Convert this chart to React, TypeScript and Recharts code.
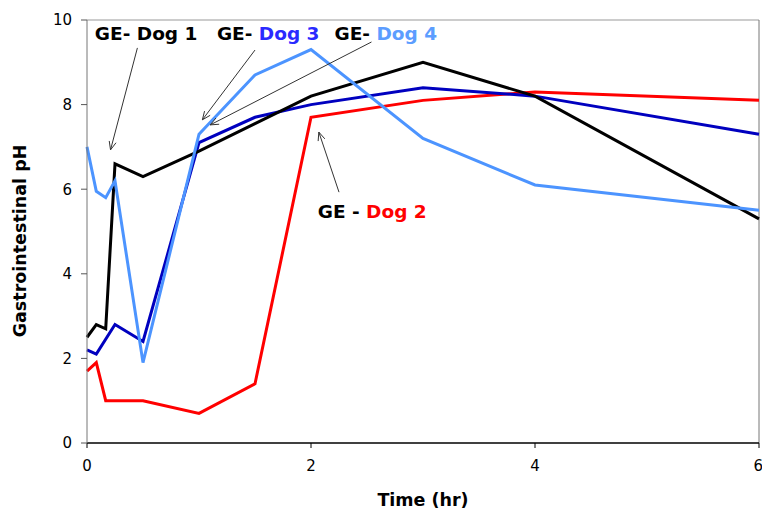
import React from 'react';
import { LineChart, Line, XAxis, YAxis, ReferenceLine, ReferenceDot } from 'recharts';

// Time (hr) and gastrointestinal pH per dog
const dog1Time = [0, 0.083, 0.167, 0.25, 0.5, 1, 1.5, 2, 3, 4, 6];
const dog1PH = [2.5, 2.8, 2.7, 6.6, 6.3, 6.9, 7.55, 8.2, 9.0, 8.2, 5.3];

const dog2Time = [0, 0.083, 0.167, 0.5, 1, 1.5, 2, 3, 4, 6];
const dog2PH = [1.7, 1.9, 1.0, 1.0, 0.7, 1.4, 7.7, 8.1, 8.3, 8.1];

const dog3Time = [0, 0.083, 0.25, 0.5, 1, 1.5, 2, 3, 4, 6];
const dog3PH = [2.2, 2.1, 2.8, 2.4, 7.1, 7.7, 8.0, 8.4, 8.2, 7.3];

const dog4Time = [0, 0.083, 0.167, 0.25, 0.5, 1, 1.5, 2, 3, 4, 6];
const dog4PH = [7.0, 5.95, 5.8, 6.2, 1.9, 7.3, 8.7, 9.3, 7.2, 6.1, 5.5];

const xTicks = [0, 2, 4, 6];
const yTicks = [0, 2, 4, 6, 8, 10];

// Annotation labels (text anchor and arrow in data units)
const annotations = [
  { prefix: 'GE- ', name: 'Dog 1', color: '#000000', tx: 0.07, ty: 9.53, ax1: 0.45, ay1: 9.34, ax2: 0.21, ay2: 6.93 },
  { prefix: 'GE- ', name: 'Dog 3', color: '#2a2aff', tx: 1.16, ty: 9.53, ax1: 1.5, ay1: 9.29, ax2: 1.03, ay2: 7.64 },
  { prefix: 'GE- ', name: 'Dog 4', color: '#5c9dff', tx: 2.21, ty: 9.53, ax1: 2.54, ay1: 9.48, ax2: 1.1, ay2: 7.52 },
  { prefix: 'GE - ', name: 'Dog 2', color: '#ff0000', tx: 2.06, ty: 5.32, ax1: 2.25, ay1: 5.93, ax2: 2.07, ay2: 7.35 },
];

const zip = (ts: number[], vs: number[]) => ts.map((t, i) => ({ t, v: vs[i] }));
const dog1 = zip(dog1Time, dog1PH);
const dog2 = zip(dog2Time, dog2PH);
const dog3 = zip(dog3Time, dog3PH);
const dog4 = zip(dog4Time, dog4PH);

const FONT = '"DejaVu Sans", sans-serif';

const ArrowShape = (p: any) => {
  const { x1, y1, x2, y2 } = p;
  if ([x1, y1, x2, y2].some((v) => typeof v !== 'number' || isNaN(v))) return null;
  const ang = Math.atan2(y2 - y1, x2 - x1);
  const len = 9;
  const spread = 0.4;
  const hx1 = x2 - len * Math.cos(ang - spread);
  const hy1 = y2 - len * Math.sin(ang - spread);
  const hx2 = x2 - len * Math.cos(ang + spread);
  const hy2 = y2 - len * Math.sin(ang + spread);
  return (
    <g>
      <line x1={x1} y1={y1} x2={x2} y2={y2} stroke="#333" strokeWidth={1} />
      <polyline points={`${hx1},${hy1} ${x2},${y2} ${hx2},${hy2}`} fill="none" stroke="#333" strokeWidth={1} />
    </g>
  );
};

const makeLabelShape = (prefix: string, name: string, color: string) => (p: any) => {
  const { cx, cy } = p;
  if (typeof cx !== 'number' || typeof cy !== 'number') return null;
  return (
    <text x={cx} y={cy} textAnchor="start" fontFamily={FONT} fontWeight="bold" fontSize={18.5}>
      <tspan fill="#000">{prefix}</tspan>
      <tspan fill={color}>{name}</tspan>
    </text>
  );
};

const YLabel = (props: any) => {
  const vb = props.viewBox || { x: 0, y: 20, width: 87, height: 423 };
  const cx = vb.x + 20;
  const cy = vb.y + vb.height / 2 + 9.5;
  return (
    <text
      x={cx}
      y={cy}
      transform={`rotate(-90 ${cx} ${cy})`}
      textAnchor="middle"
      dominantBaseline="central"
      fontFamily={FONT}
      fontWeight="bold"
      fontSize={17.5}
      fill="#000"
    >
      Gastrointestinal pH
    </text>
  );
};

const XLabel = (props: any) => {
  const vb = props.viewBox || { x: 87, y: 443, width: 672, height: 70 };
  const cx = vb.x + vb.width / 2;
  const cy = vb.y + 57;
  return (
    <text x={cx} y={cy} textAnchor="middle" dominantBaseline="central" fontFamily={FONT} fontWeight="bold" fontSize={17.5} fill="#000">
      Time (hr)
    </text>
  );
};

export default function App() {
  return (
    <div style={{ position: 'absolute', left: 0, top: 0, width: 762, height: 513, background: '#fff' }}>
      <LineChart width={762} height={513} margin={{ top: 20, right: 3, bottom: 0, left: 0 }}>
        <XAxis
          dataKey="t"
          type="number"
          domain={[0, 6]}
          ticks={xTicks}
          allowDuplicatedCategory={false}
          height={70}
          tickSize={5}
          tickMargin={12}
          axisLine={{ stroke: '#000', strokeWidth: 1.5 }}
          tickLine={{ stroke: '#000' }}
          tick={{ fill: '#000', fontFamily: FONT, fontSize: 15 }}
          label={<XLabel />}
        />
        <YAxis
          type="number"
          domain={[0, 10]}
          ticks={yTicks}
          width={87}
          tickSize={6}
          tickMargin={9}
          axisLine={{ stroke: '#777', strokeWidth: 1 }}
          tickLine={{ stroke: '#555' }}
          tick={{ fill: '#000', fontFamily: FONT, fontSize: 15 }}
          label={<YLabel />}
        />
        <ReferenceLine y={10} stroke="#999" strokeWidth={1} />
        <ReferenceLine x={6} stroke="#777" strokeWidth={1} />
        <Line data={dog2} dataKey="v" stroke="#ff0000" strokeWidth={3} dot={false} isAnimationActive={false} />
        <Line data={dog3} dataKey="v" stroke="#0000bf" strokeWidth={3} dot={false} isAnimationActive={false} />
        <Line data={dog1} dataKey="v" stroke="#000000" strokeWidth={3} dot={false} isAnimationActive={false} />
        <Line data={dog4} dataKey="v" stroke="#4c94ff" strokeWidth={3} dot={false} isAnimationActive={false} />
        {annotations.map((a) => (
          <ReferenceLine
            key={'arr' + a.name}
            segment={[{ x: a.ax1, y: a.ay1 }, { x: a.ax2, y: a.ay2 }]}
            shape={ArrowShape}
            ifOverflow="visible"
          />
        ))}
        {annotations.map((a) => (
          <ReferenceDot
            key={'lbl' + a.name}
            x={a.tx}
            y={a.ty}
            r={0}
            ifOverflow="visible"
            shape={makeLabelShape(a.prefix, a.name, a.color)}
          />
        ))}
      </LineChart>
    </div>
  );
}
